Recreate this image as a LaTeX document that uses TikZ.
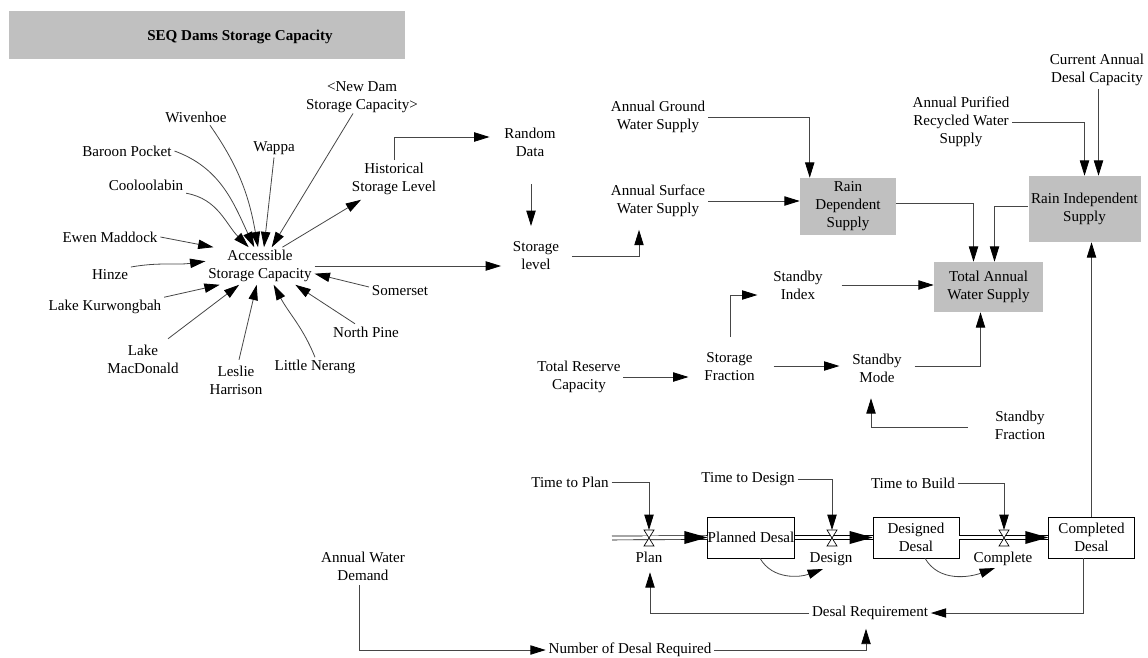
\documentclass[tikz,border=0pt]{standalone}
\usepackage{fontspec}
\setmainfont{Liberation Serif}
\usetikzlibrary{arrows.meta,calc}
\definecolor{boxgray}{RGB}{192,192,192}
\definecolor{linegray}{RGB}{70,70,70}
\newcommand{\simfont}{\fontsize{11.3}{13.5}\selectfont}
\tikzset{
  var/.style={align=center,inner sep=2pt,font=\simfont},
  auxbox/.style={var,fill=boxgray},
  stock/.style={var,draw,fill=white,inner sep=0pt,minimum width=64.5pt,minimum height=30.75pt},
  conn/.style={linegray,line width=0.6pt,-{Triangle[length=11.5pt,width=7pt,color=black]}},
  pipe/.style={double=white,double distance=2.4pt,line width=0.5pt},
  valve/.style={draw=black,fill=white,line width=0.5pt}
}
\begin{document}
\begin{tikzpicture}[x=0.75pt,y=0.75pt]
\useasboundingbox (0,0) rectangle (1148,-657);
\fill[boxgray] (9,-11) rectangle (405,-59);
\node[var,font=\simfont\bfseries] (title) at (240,-37) {SEQ Dams Storage Capacity};

\node[var] (asc) at (260,-266) {Accessible\\Storage Capacity};
\node[var] (wiv) at (196,-117) {Wivenhoe};
\node[var] (bp) at (127,-151) {Baroon Pocket};
\node[var] (wap) at (274,-148) {Wappa};
\node[var] (nd) at (362,-97) {<New Dam\\Storage Capacity>};
\node[var] (coo) at (146,-185) {Cooloolabin};
\node[var] (ewen) at (110,-237) {Ewen Maddock};
\node[var] (hin) at (110,-275) {Hinze};
\node[var] (kur) at (105,-307) {Lake Kurwongbah};
\node[var] (mac) at (143,-359) {Lake\\MacDonald};
\node[var] (les) at (236,-380) {Leslie\\Harrison};
\node[var] (ln) at (315,-367) {Little Nerang};
\node[var] (np) at (366,-332) {North Pine};
\node[var] (som) at (400,-291) {Somerset};
\node[var] (hist) at (394,-179) {Historical\\Storage Level};
\node[var] (rand) at (530,-142) {Random\\Data};
\node[var] (lev) at (536,-256) {Storage\\level};

\node[var] (agws) at (658,-117) {Annual Ground\\Water Supply};
\node[var] (asws) at (658,-201) {Annual Surface\\Water Supply};
\node[auxbox,minimum width=72pt,minimum height=42.75pt] (rds) at (848,-206.5) {Rain\\Dependent\\Supply};
\node[var] (apr) at (961,-122) {Annual Purified\\Recycled Water\\Supply};
\node[var] (cadc) at (1097,-70) {Current Annual\\Desal Capacity};
\node[auxbox,minimum width=83.25pt,minimum height=49.5pt] (ris) at (1084.5,-209) {Rain Independent\\Supply};
\node[auxbox,minimum width=81.75pt,minimum height=37.5pt] (tot) at (988.5,-287) {Total Annual\\Water Supply};
\node[var] (sbi) at (798,-285) {Standby\\Index};
\node[var] (trc) at (579,-377) {Total Reserve\\Capacity};
\node[var] (sf) at (729.5,-367) {Storage\\Fraction};
\node[var] (sm) at (877,-368) {Standby\\Mode};
\node[var] (sfr) at (1020,-425) {Standby\\Fraction};

\node[var] (ttp) at (570,-482) {Time to Plan};
\node[var] (ttd) at (748,-479) {Time to Design};
\node[var] (ttb) at (913,-483) {Time to Build};
\node[stock] (pd) at (751,-537.5) {Planned Desal};
\node[stock] (dd) at (916,-537.5) {Designed\\Desal};
\node[stock] (cd) at (1091.5,-537.5) {Completed\\Desal};
\coordinate (src) at (612,-538);
\coordinate (vplan) at (649,-538);
\coordinate (vdes) at (832,-538);
\coordinate (vcom) at (1004,-538);
\node[var] (planl) at (649,-557) {Plan};
\node[var] (desl) at (831,-559) {Design};
\node[var] (coml) at (1003,-559) {Complete};
\node[var] (dr) at (870,-613) {Desal Requirement};
\node[var] (awd) at (363,-566) {Annual Water\\Demand};
\node[var] (nodr) at (630,-650) {Number of Desal Required};

\draw[pipe] (src) -- (pd.west);
\draw[pipe] (pd.east) -- (dd.west);
\draw[pipe] (dd.east) -- (cd.west);
\foreach \s in {pd,dd,cd}
  \fill (\s.west) -- ++(-23,6.5) -- ++(0,-13) -- cycle;
\foreach \v in {vplan,vdes,vcom}
  \filldraw[valve] (\v) -- ++(-5,8) -- ++(10,0) -- cycle (\v) -- ++(-5,-8) -- ++(10,0) -- cycle;

\draw[conn] ($(wiv.south)+(14,0)$) to[out=-55,in=100] (asc.96);
\draw[conn] (bp.east) to[out=-20,in=115] (asc.107);
\draw[conn] (wap.south) -- (asc.78);
\draw[conn] ($(nd.south)+(-9,2)$) -- (asc.58);
\draw[conn] (coo.south east) to[out=-10,in=135] (asc.121);
\draw[conn] (ewen.east) -- (asc.158);
\draw[conn] (hin.north east) to[out=10,in=188] (asc.175);
\draw[conn] (kur.north east) -- (asc.205);
\draw[conn] ($(mac.north)+(25,3)$) -- (asc.222);
\draw[conn] ($(les.north)+(3,3)$) -- (asc.260);
\draw[conn] (ln.north) to[out=112,in=-62] (asc.306);
\draw[conn] ($(np.north)+(-11,0)$) -- (asc.332);
\draw[conn] ($(som.west)+(0,4)$) -- (asc.352);
\draw[conn] (asc.40) -- ($(hist.south west)+(12,-2)$);
\draw[conn] (hist.north) |- ($(rand.west)+(-12,5)$);
\draw[conn] ($(rand.south)+(1,-25)$) -- ($(lev.north)+(-5,13)$);
\draw[conn] (asc.east) -- ($(lev.west)+(-9,-10)$);
\draw[conn] ($(lev.east)+(10,0)$) -| ($(asws.south)+(-19,-10)$);

\draw[conn] (agws.east) -| ($(rds.north west)+(10,0)$);
\draw[conn] (asws.east) -- (asws.east -| rds.west);
\draw[conn] ($(rds.east)+(0,3)$) -| ($(tot.north)+(-15,0)$);
\draw[conn] ($(ris.west)+(0,3)$) -| ($(tot.north)+(6,0)$);
\draw[conn] (apr.east) -| (ris.north);
\coordinate (risin) at ($(ris.north)+(14,0)$);
\draw[conn] (risin |- cadc.south) -- (risin);
\draw[conn] ($(sbi.east)+(16,0)$) -- (tot.west |- sbi.east);
\draw[conn] ($(sf.north)+(1,13)$) |- ($(sbi.west)+(-13,-10)$);
\draw[conn] (trc.east) -- ($(sf.west)+(-13,-10)$);
\draw[conn] ($(sf.east)+(16,1)$) -- ($(sm.west)+(-10,2)$);
\draw[conn] ($(sm.east)+(10,2)$) -| ($(tot.south)+(-8,0)$);
\draw[conn] ($(sfr.west)+(-24,-2)$) -| ($(sm.south)+(-6,-13)$);

\draw[conn] (ttp.east) -| ($(vplan)+(0,8)$);
\draw[conn] (ttd.east) -| ($(vdes)+(0,8)$);
\draw[conn] (ttb.east) -| ($(vcom)+(0,8)$);
\draw[conn] ($(pd.south)+(9,0)$) to[out=-60,in=200] ($(vdes)+(-9,-31)$);
\draw[conn] ($(dd.south)+(9,0)$) to[out=-60,in=200] ($(vcom)+(-9,-30)$);
\draw[conn] (cd.north) -- (cd.north |- ris.south);
\draw[conn] ($(cd.south)+(-8,0)$) |- (dr.east);
\draw[conn] (dr.west) -| ($(planl.south)+(1,-7)$);
\draw[conn] ($(awd.south)+(-4,-2)$) |- (nodr.west);
\draw[conn] (nodr.east) -| ($(dr.south)+(-4,-6)$);
\end{tikzpicture}
\end{document}
